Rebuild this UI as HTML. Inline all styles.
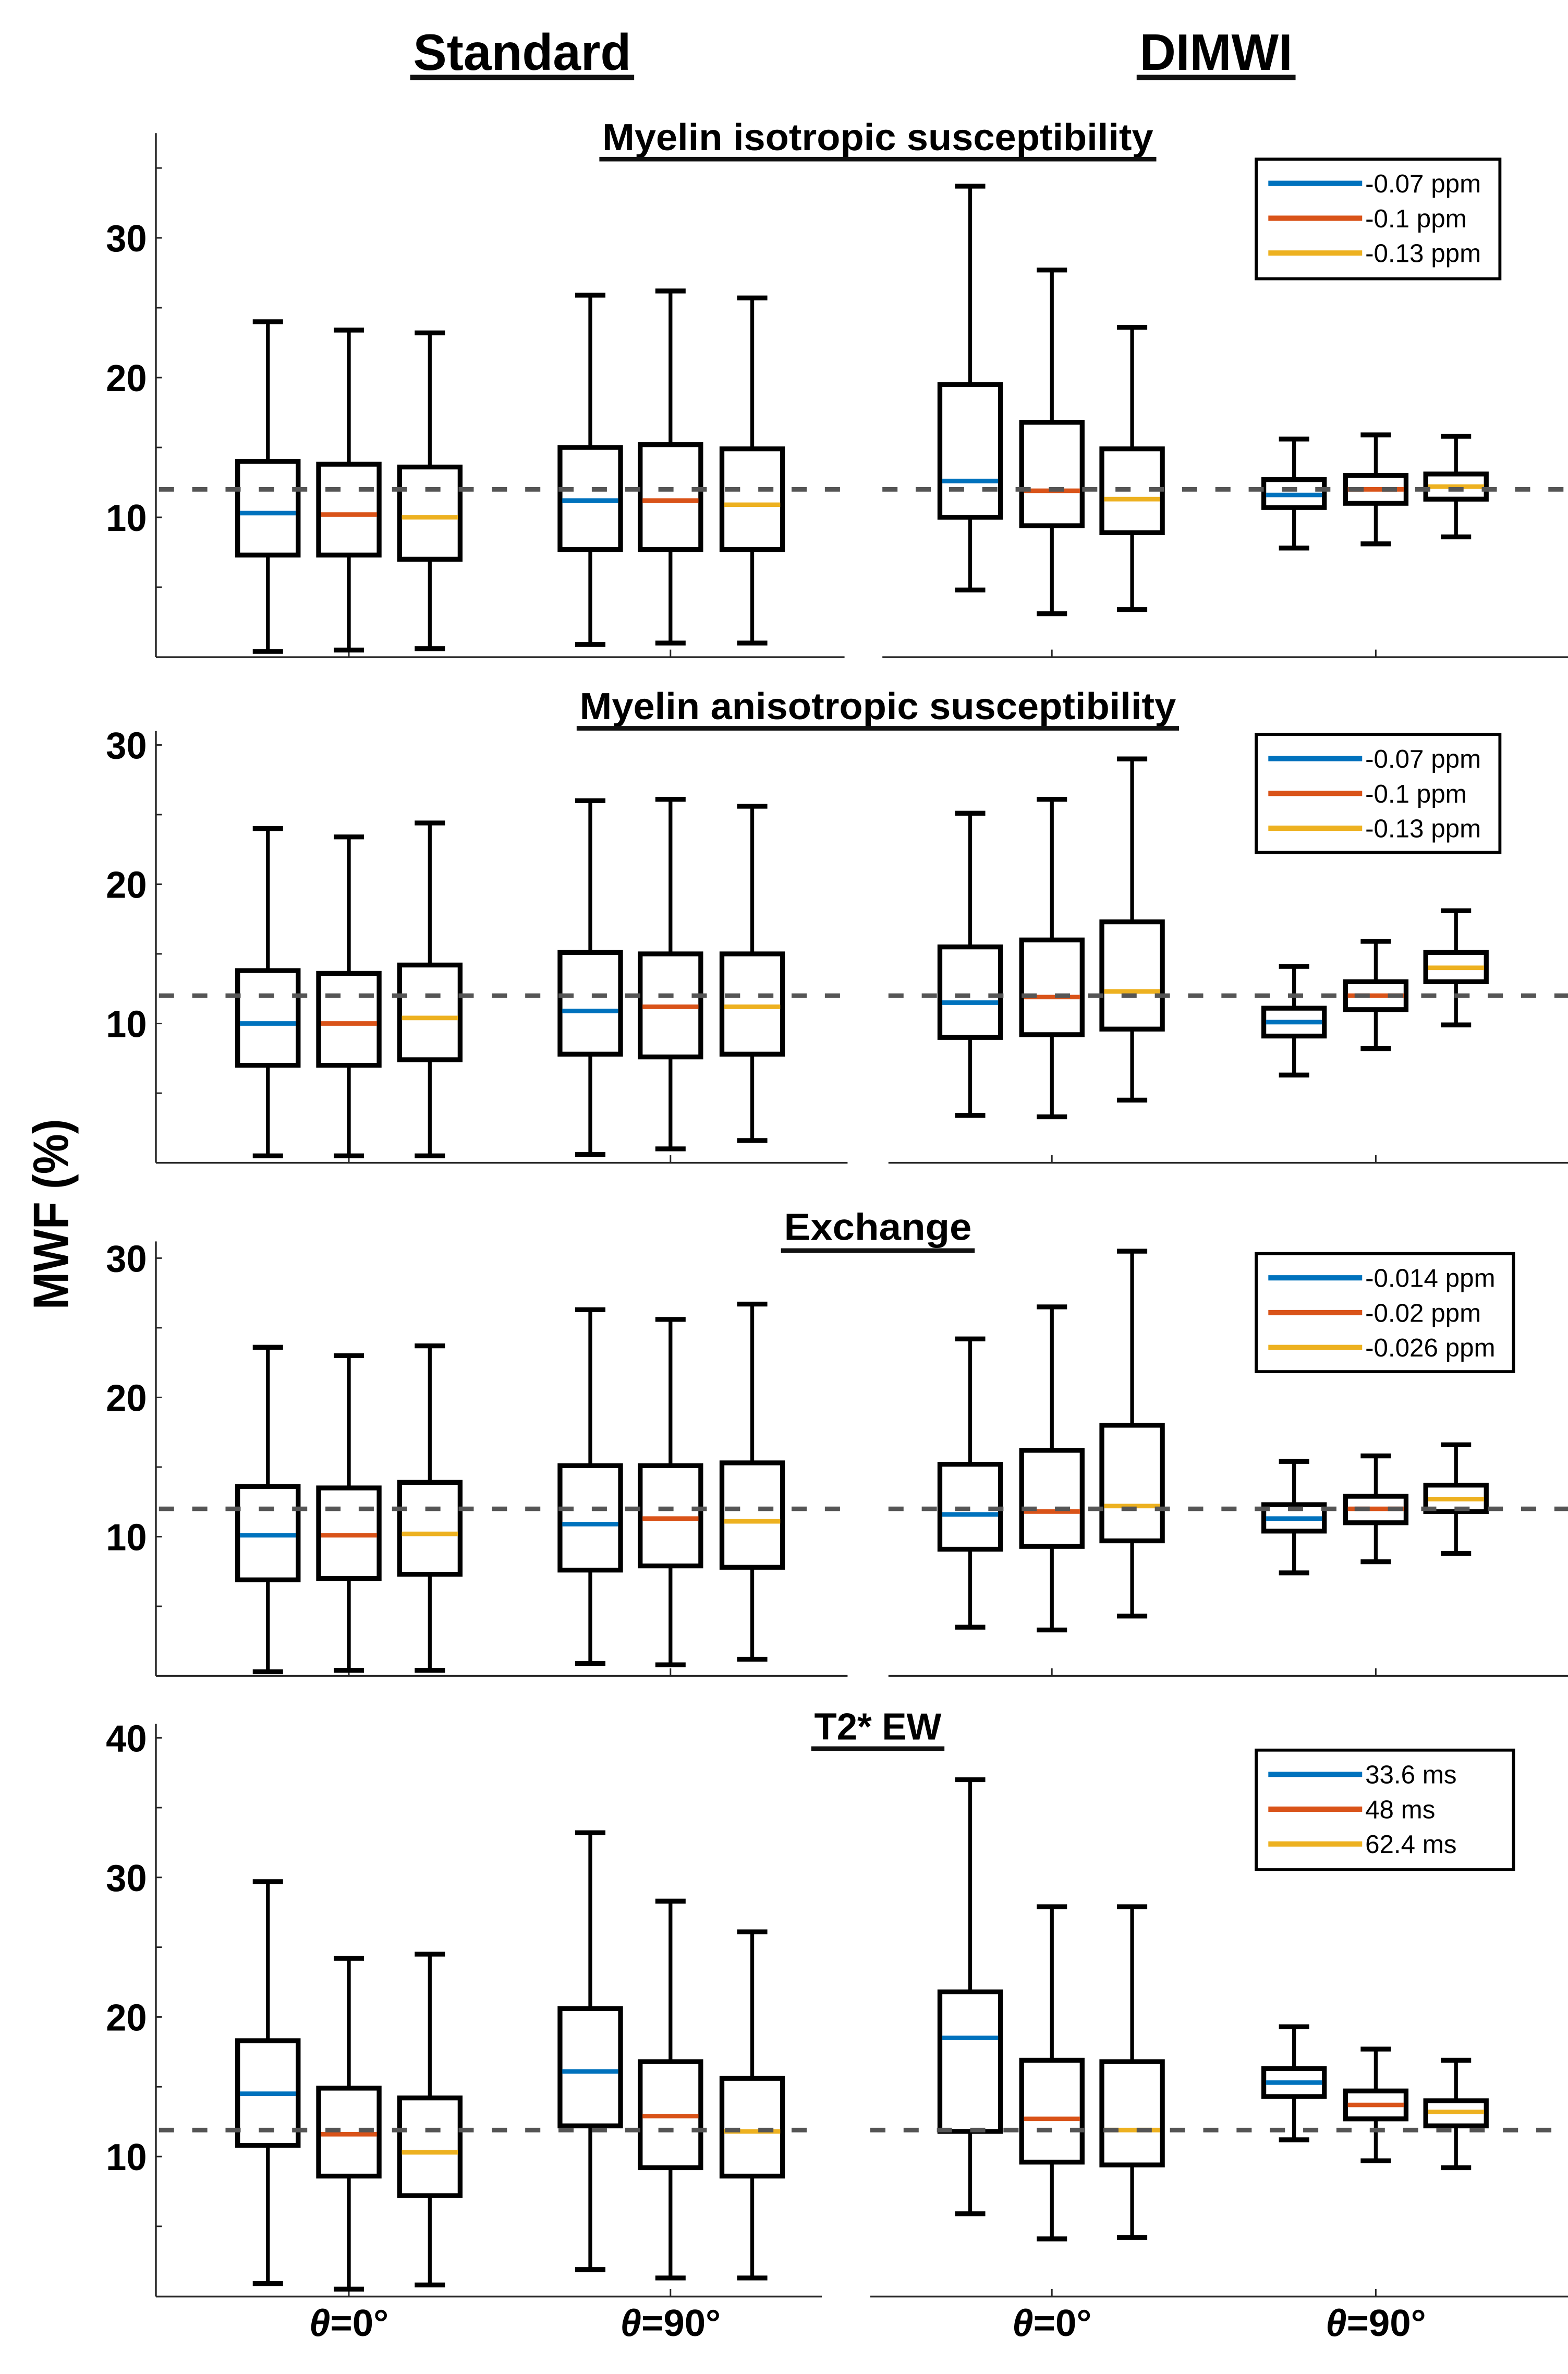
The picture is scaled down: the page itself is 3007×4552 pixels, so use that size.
<!DOCTYPE html>
<html><head><meta charset="utf-8"><style>
html,body{margin:0;padding:0;background:#fff}
svg{display:block}
text{font-family:"Liberation Sans",Arial,sans-serif}
</style></head><body>
<svg id="fig" width="3007" height="4552" viewBox="0 0 1036 1568" xmlns="http://www.w3.org/2000/svg">
<rect width="1036" height="1568" fill="#fff"/>
<g id="root"></g>
</svg>
<script>
// ---- data ----
const panelTitles = ["Myelin isotropic susceptibility","Myelin anisotropic susceptibility","Exchange","T2* EW"];
const legendLabels = [["-0.07 ppm","-0.1 ppm","-0.13 ppm"],["-0.07 ppm","-0.1 ppm","-0.13 ppm"],["-0.014 ppm","-0.02 ppm","-0.026 ppm"],["33.6 ms","48 ms","62.4 ms"]];
const groupLabels = ["θ=0°","θ=90°","θ=0°","θ=90°"];
const referenceValue = [12,12,12,11.9];
const yTickLabels = [[10,20,30],[10,20,30],[10,20,30],[10,20,30,40]];
const yMax = [37.5,31,31.2,41];
// each box: [min, q1, median, q3, max]; order: Std0 x3, Std90 x3, DIMWI0 x3, DIMWI90 x3
const panel1 = [[0.4,7.3,10.3,14.0,24.0],[0.5,7.3,10.2,13.8,23.4],[0.6,7.0,10.0,13.6,23.2],
 [0.9,7.7,11.2,15.0,25.9],[1.0,7.7,11.2,15.2,26.2],[1.0,7.7,10.9,14.9,25.7],
 [4.8,10.0,12.6,19.5,33.7],[3.1,9.4,11.9,16.8,27.7],[3.4,8.9,11.3,14.9,23.6],
 [7.8,10.7,11.6,12.7,15.6],[8.1,11.0,12.0,13.0,15.9],[8.6,11.3,12.2,13.1,15.8]];
const panel2 = [[0.5,7.0,10.0,13.8,24.0],[0.5,7.0,10.0,13.6,23.4],[0.5,7.4,10.4,14.2,24.4],
 [0.6,7.8,10.9,15.1,26.0],[1.0,7.6,11.2,15.0,26.1],[1.6,7.8,11.2,15.0,25.6],
 [3.4,9.0,11.5,15.5,25.1],[3.3,9.2,11.9,16.0,26.1],[4.5,9.6,12.3,17.3,29.0],
 [6.3,9.1,10.1,11.1,14.1],[8.2,11.0,12.0,13.0,15.9],[9.9,13.0,14.0,15.1,18.1]];
const panel3 = [[0.3,6.9,10.1,13.6,23.6],[0.4,7.0,10.1,13.5,23.0],[0.4,7.3,10.2,13.9,23.7],
 [0.9,7.6,10.9,15.1,26.3],[0.8,7.9,11.3,15.1,25.6],[1.2,7.8,11.1,15.3,26.7],
 [3.5,9.1,11.6,15.2,24.2],[3.3,9.3,11.8,16.2,26.5],[4.3,9.7,12.2,18.0,30.5],
 [7.4,10.4,11.3,12.3,15.4],[8.2,11.0,12.0,12.9,15.8],[8.8,11.8,12.7,13.7,16.6]];
const panel4 = [[0.9,10.8,14.5,18.3,29.7],[0.5,8.6,11.6,14.9,24.2],[0.8,7.2,10.3,14.2,24.5],
 [1.9,12.2,16.1,20.6,33.2],[1.3,9.2,12.9,16.8,28.3],[1.3,8.6,11.8,15.6,26.1],
 [5.9,11.8,18.5,21.8,37.0],[4.1,9.6,12.7,16.9,27.9],[4.2,9.4,11.9,16.8,27.9],
 [11.2,14.3,15.3,16.3,19.3],[9.7,12.7,13.7,14.7,17.7],[9.2,12.2,13.2,14.0,16.9]];
const panelData = [panel1,panel2,panel3,panel4];

// ---- layout (display units) ----
const NS="http://www.w3.org/2000/svg";
const root=document.getElementById('root');
const colors=["#0072BD","#D95319","#EDB120"];
const boxX=[177,230.5,284,390,443,497,641,695,748,855,909,962];
const groupX=[230.5,443,695,909];
const layout=[
 {y0:434,y10:341.6,ppu:9.23,titleY:99,ulY:105,tx:[396,764],leg:[830,105,991,184],axL:[103,558],axR:[583,1036]},
 {y0:768,y10:676,ppu:9.2,titleY:475,ulY:481,tx:[381,779],leg:[830,485,991,563],axL:[103,560],axR:[587,1036]},
 {y0:1107,y10:1015,ppu:9.2,titleY:819,ulY:826,tx:[516,644],leg:[830,828,1000,906],axL:[103,560],axR:[587,1036]},
 {y0:1517,y10:1424.5,ppu:9.22,titleY:1149,ulY:1155,tx:[536,624],leg:[830,1156,1000,1235],axL:[103,543],axR:[575,1036]}
];
function el(tag,attrs,parent){const e=document.createElementNS(NS,tag);for(const k in attrs)e.setAttribute(k,attrs[k]);(parent||root).appendChild(e);return e;}

// column headers
[["Standard",271,419,"standard-header"],["DIMWI",751,856,"dimwi-header"]].forEach(([t,a,b,n])=>{
 const tx=el('text',{x:(a+b)/2,y:46,'text-anchor':'middle','font-size':34,'font-weight':'bold',textLength:b-a-4,lengthAdjust:'spacingAndGlyphs'});
 tx.textContent=t;
 
 
 const ul=el('line',{x1:a,x2:b,y1:51,y2:51,stroke:'#111','stroke-width':3.5});
 
 
});
const yl=el('text',{x:0,y:0,transform:'translate(45,802) rotate(-90)','text-anchor':'middle','font-size':33,'font-weight':'bold',textLength:126,lengthAdjust:'spacingAndGlyphs'});
yl.textContent="MWF (%)";



panelData.forEach((data,p)=>{
 const L=layout[p];
 const Y=v=>L.y10-(v-10)*L.ppu;
 const g=el('g',{});
 
 
 const top=Y(yMax[p]);
 el('line',{x1:L.axL[0],x2:L.axL[0],y1:top,y2:L.y0,stroke:'#262626','stroke-width':1.2},g);
 const xa1=el('line',{x1:L.axL[0],x2:L.axL[1],y1:L.y0,y2:L.y0,stroke:'#262626','stroke-width':1.2},g);
 
 const xa2=el('line',{x1:L.axR[0],x2:L.axR[1],y1:L.y0,y2:L.y0,stroke:'#262626','stroke-width':1.2},g);
 
 for(let v=5;v<=yMax[p];v+=5){
  el('line',{x1:L.axL[0],x2:L.axL[0]+4,y1:Y(v),y2:Y(v),stroke:'#262626','stroke-width':1},g);
 }
 yTickLabels[p].forEach(v=>{
  const t=el('text',{x:L.axL[0]-6,y:Y(v)+9,'text-anchor':'end','font-size':25,'font-weight':'bold',textLength:27,lengthAdjust:'spacingAndGlyphs'},g);
  t.textContent=v;
  
  
 });
 groupX.forEach(x=>{el('line',{x1:x,x2:x,y1:L.y0,y2:L.y0-5,stroke:'#262626','stroke-width':1},g);});
 const tt=el('text',{x:(L.tx[0]+L.tx[1])/2,y:L.titleY,'text-anchor':'middle','font-size':25,'font-weight':'bold',textLength:L.tx[1]-L.tx[0]-4,lengthAdjust:'spacingAndGlyphs'},g);
 tt.textContent=panelTitles[p];
 
 
 el('line',{x1:L.tx[0],x2:L.tx[1],y1:L.ulY,y2:L.ulY,stroke:'#111','stroke-width':3},g);
 data.forEach((b,i)=>{
  const x=boxX[i],hw=20,cw=10;
  const bg=el('g',{},g);
  
  
  el('line',{x1:x,x2:x,y1:Y(b[4]),y2:Y(b[3]),stroke:'#000','stroke-width':2.5},bg);
  el('line',{x1:x,x2:x,y1:Y(b[1]),y2:Y(b[0]),stroke:'#000','stroke-width':2.5},bg);
  el('line',{x1:x-cw,x2:x+cw,y1:Y(b[4]),y2:Y(b[4]),stroke:'#000','stroke-width':3.2},bg);
  el('line',{x1:x-cw,x2:x+cw,y1:Y(b[0]),y2:Y(b[0]),stroke:'#000','stroke-width':3.2},bg);
  el('rect',{x:x-hw,y:Y(b[3]),width:2*hw,height:Y(b[1])-Y(b[3]),fill:'none',stroke:'#000','stroke-width':3.2},bg);
  el('line',{x1:x-hw+1.5,x2:x+hw-1.5,y1:Y(b[2]),y2:Y(b[2]),stroke:colors[i%3],'stroke-width':3},bg);
 });
 const ry=Y(referenceValue[p]);
 [[L.axL[0]+2,L.axL[1]],[L.axR[0],1036]].forEach(([a,c])=>{
  const d=el('line',{x1:a,x2:c,y1:ry,y2:ry,stroke:'#555','stroke-width':3,'stroke-dasharray':'10 12'},g);
  
  
 });
 const [lx1,ly1,lx2,ly2]=L.leg;
 const lg=el('g',{},g);
 
 
 el('rect',{x:lx1,y:ly1,width:lx2-lx1,height:ly2-ly1,fill:'#fff',stroke:'#000','stroke-width':2},lg);
 legendLabels[p].forEach((s,k)=>{
  const yy=ly1+16+k*23;
  const e=el('line',{x1:838,x2:900,y1:yy,y2:yy,stroke:colors[k],'stroke-width':3.5},lg);
  
  const t=el('text',{x:902,y:yy+6,'font-size':17},lg);
  t.textContent=s;
 });
 if(p===3){
  groupLabels.forEach((s,k)=>{
   const t=el('text',{x:groupX[k],y:1543,'text-anchor':'middle','font-size':25,'font-weight':'bold'},g);
   const th=el('tspan',{'font-style':'italic'},t);th.textContent=s[0];
   const rest=el('tspan',{},t);rest.textContent=s.slice(1);
   
   
  });
 }
});
</script>
</body></html>
